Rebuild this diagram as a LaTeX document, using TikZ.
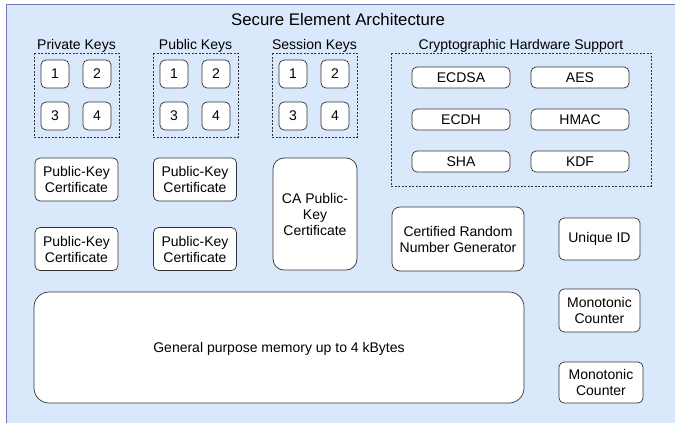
\documentclass[tikz,border=0pt]{standalone}
\usepackage{fontspec}
\setmainfont{Liberation Sans}
\begin{document}
\begin{tikzpicture}[x=1pt,y=-1pt,
  panel/.style={draw=black!80, fill=white, rounded corners=5pt, line width=0.7pt},
  keybox/.style={panel},
  group/.style={draw=black!80, dash pattern=on 2pt off 1.5pt, line width=0.7pt},
  lbl/.style={font=\fontsize{14}{16}\selectfont, align=center, inner sep=0pt}
]
\useasboundingbox (0,0) rectangle (675,423);
% outer container
\begin{scope}
\clip (0,0) rectangle (675,423);
\draw[draw=blue!35!gray!80, fill={rgb,255:red,218;green,232;blue,252}, line width=0.8pt]
  (6,4) rectangle (690,440);
\end{scope}
\node[lbl, font=\fontsize{16.8}{19}\selectfont] (title) at (338,19) {Secure Element Architecture};

% key groups
\foreach \n/\gx/\txt in {priv/34/Private Keys, pub/153/Public Keys, sess/272/Session Keys}{
  \draw[group] (\gx,53) rectangle ++(85,84);
  \node[lbl] (\n-lbl) at (\gx+42.5,46) {\txt};
  \draw[keybox] (\gx+7,60) rectangle ++(28,28);
  \node[lbl] (\n-1) at (\gx+21,74) {1};
  \draw[keybox] (\gx+49,60) rectangle ++(28,28);
  \node[lbl] (\n-2) at (\gx+63,74) {2};
  \draw[keybox] (\gx+7,102) rectangle ++(28,28);
  \node[lbl] (\n-3) at (\gx+21,116) {3};
  \draw[keybox] (\gx+49,102) rectangle ++(28,28);
  \node[lbl] (\n-4) at (\gx+63,116) {4};
}

% cryptographic hardware
\draw[group] (391,53) rectangle (651,186);
\node[lbl] (crypto-lbl) at (521,46) {Cryptographic Hardware Support};
\foreach \n/\cx/\cy/\txt in {ecdsa/461/77.5/ECDSA, aes/580/77.5/AES, ecdh/461/119.5/ECDH,
  hmac/580/119.5/HMAC, sha/461/161.5/SHA, kdf/580/161.5/KDF}{
  \draw[panel] (\cx-49,\cy-10.5) rectangle (\cx+49,\cy+10.5);
  \node[lbl] (\n) at (\cx,\cy) {\txt};
}

% certificates
\foreach \n/\cx/\cy in {c1/76.5/179.5, c2/195/179.5, c3/76.5/249, c4/195/249}{
  \draw[panel] (\cx-41.5,\cy-21.5) rectangle (\cx+41.5,\cy+21.5);
  \node[lbl] (\n) at (\cx,\cy) {Public-Key\\Certificate};
}
\draw[panel, rounded corners=11pt] (273,158) rectangle (357,270);
\node[lbl] (ca) at (315,214) {CA Public-\\Key\\Certificate};

% random number generator and counters
\draw[panel, rounded corners=8pt] (392,207) rectangle (524,271);
\node[lbl] (rng) at (458,239) {Certified Random\\Number Generator};
\draw[panel] (559,218) rectangle (640,260);
\node[lbl] (uid) at (599.5,239) {Unique ID};
\draw[panel] (559,289) rectangle (640,332);
\node[lbl] (mc1) at (599.5,310.5) {Monotonic\\Counter};
\draw[panel] (559,362) rectangle (643,403);
\node[lbl] (mc2) at (601,382.5) {Monotonic\\Counter};

% memory
\draw[panel, rounded corners=15pt] (34,292) rectangle (524,403);
\node[lbl] (mem) at (279,349) {General purpose memory up to 4 kBytes};
\end{tikzpicture}
\end{document}
